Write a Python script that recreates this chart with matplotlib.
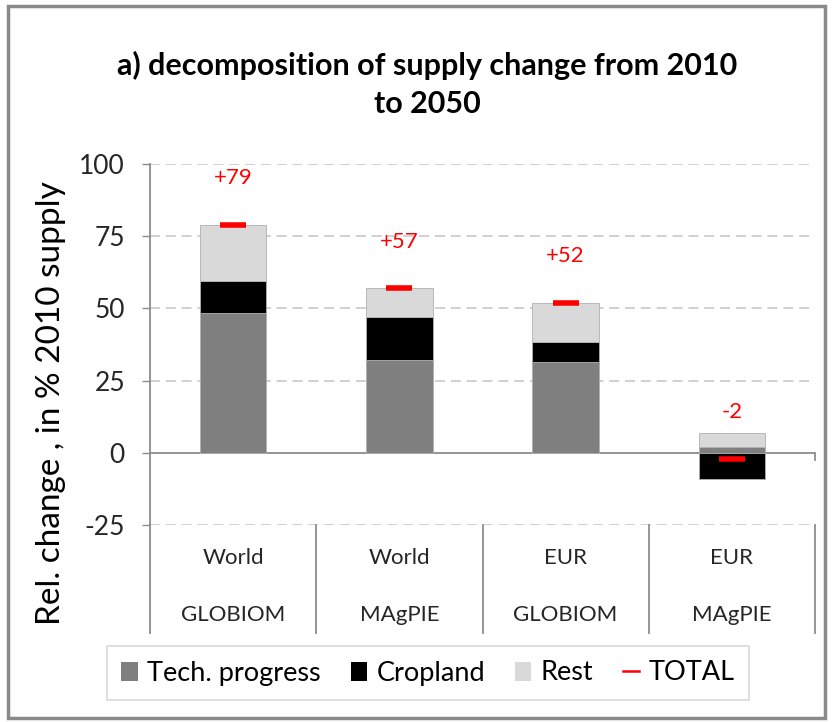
import matplotlib
matplotlib.use("Agg")
import matplotlib.pyplot as plt
import numpy as np
from matplotlib.patches import Patch, Rectangle
from matplotlib.lines import Line2D
import matplotlib.transforms as mtransforms

regions = ["World", "World", "EUR", "EUR"]
models = ["GLOBIOM", "MAgPIE", "GLOBIOM", "MAgPIE"]
tech = [48.5, 32.0, 31.5, 2.0]
cropland = [11.0, 15.0, 7.0, -9.0]
rest = [19.5, 10.0, 13.5, 5.0]
total = [79, 57, 52, -2]
total_labels = ["+79", "+57", "+52", "-2"]
yticks = [-25, 0, 25, 50, 75, 100]

plt.rcParams['font.family'] = ['Lato', 'DejaVu Sans']

fig = plt.figure(figsize=(8.33, 7.22), dpi=100)
W, H = 833, 722
ax = fig.add_axes([150 / W, 1 - 525 / H, (815 - 150) / W, (525 - 164) / H])

x = np.arange(len(models))
series = [(tech, "#7f7f7f", "Tech. progress"),
          (cropland, "#000000", "Cropland"),
          (rest, "#d9d9d9", "Rest")]
pos_base = np.zeros(len(x))
neg_base = np.zeros(len(x))
bw = 0.40
for vals, col, lab in series:
    v = np.array(vals, dtype=float)
    bottom = np.where(v >= 0, pos_base, neg_base)
    ax.bar(x, v, bw, bottom=bottom, color=col, edgecolor="#b0b0b0",
           linewidth=0.6, zorder=3, label=lab)
    pos_base = pos_base + np.where(v >= 0, v, 0)
    neg_base = neg_base + np.where(v < 0, v, 0)

ax.plot(x, total, linestyle="none", marker="_", markersize=19,
        markeredgewidth=4, color="#ff0000", zorder=5)
for xi, t, lab in zip(x, total, total_labels):
    ax.text(xi, t + 16, lab, color="#ff0000", ha="center", va="center",
            fontsize=16)

ax.set_xlim(-0.5, len(x) - 0.5)
ax.set_ylim(-25, 100)
ax.set_yticks(yticks)
ax.set_yticklabels([str(t) for t in yticks])
ax.tick_params(axis="y", direction="out", length=6, width=1, color="#8c8c8c",
               labelsize=19, pad=12, labelcolor="#262626")
ax.tick_params(axis="x", length=0, labelbottom=False)
for yv in [-25, 25, 50, 75, 100]:
    ax.axhline(yv, color="#c8c8c8", lw=1.2, dashes=(6, 3.5), zorder=1)
ax.axhline(0, color="#8c8c8c", lw=1.3, zorder=2)
for s in ["top", "right", "bottom"]:
    ax.spines[s].set_visible(False)
ax.spines["left"].set_color("#8c8c8c")
ax.spines["left"].set_linewidth(1.3)

# small tick at the right end of the zero line
ax.plot([len(x) - 0.5, len(x) - 0.5], [0, -2.5], color="#8c8c8c", lw=1.3,
        clip_on=False, zorder=2)

# category axis
trans = mtransforms.blended_transform_factory(ax.transData, ax.transAxes)
sep_bottom = -(633 - 525) / (525 - 164)
for b in np.arange(-0.5, len(x), 1.0):
    ax.plot([b, b], [0, sep_bottom], transform=trans, color="#8c8c8c",
            lw=1.3, clip_on=False)
for xi, r, m in zip(x, regions, models):
    ax.text(xi, -(558 - 525) / 361, r, transform=trans, ha="center",
            va="center", fontsize=16, color="#262626")
    ax.text(xi, -(615 - 525) / 361, m, transform=trans, ha="center",
            va="center", fontsize=16, color="#262626")

fig.text(51 / W, 1 - 403 / H, "Rel. change , in % 2010 supply",
         rotation=90, ha="center", va="center", fontsize=24, color="#000000")

fig.text(427 / W, 1 - 65 / H, "a) decomposition of supply change from 2010",
         ha="center", va="center", fontsize=22, fontweight="bold")
fig.text(427 / W, 1 - 104 / H, "to 2050", ha="center", va="center",
         fontsize=22, fontweight="bold")

handles = [Patch(facecolor=c, edgecolor="none") for _, c, _ in series]
handles.append(Line2D([0], [0], color="#ff0000", lw=1.8))
labels = [s[2] for s in series] + ["TOTAL"]
leg = fig.legend(handles, labels, loc="center", ncol=4,
                 bbox_to_anchor=(428 / W, 1 - 673 / H), fontsize=19.5,
                 frameon=True, fancybox=False, handlelength=0.6,
                 handleheight=0.7, handletextpad=0.35, columnspacing=1.1,
                 borderpad=0.55)
leg.get_frame().set_edgecolor("#d0d0d0")
leg.get_frame().set_linewidth(1.2)

# outer frame
fig.patches.append(Rectangle((8 / W, 4 / H), (825 - 8) / W, (716 - 4) / H,
                             transform=fig.transFigure, fill=False,
                             edgecolor="#8a8a8a", lw=2.5))

fig.savefig("out.png", dpi=100)
